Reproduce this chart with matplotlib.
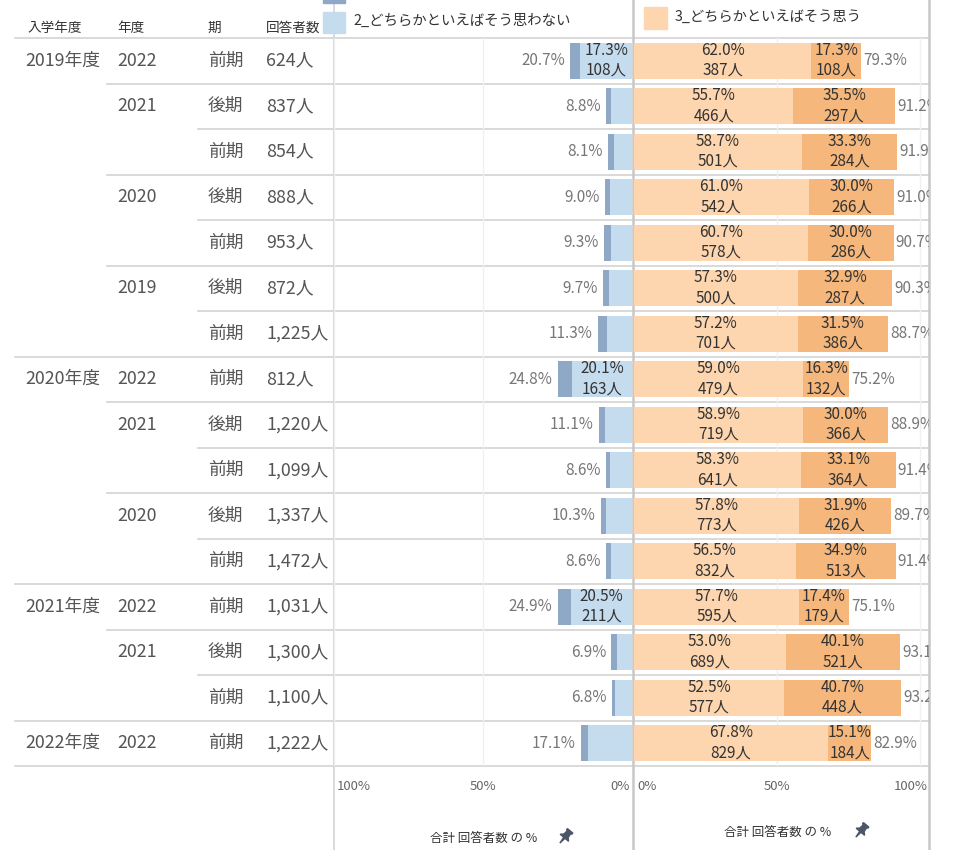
import matplotlib
matplotlib.use('Agg')
import matplotlib.pyplot as plt
from matplotlib.patches import Rectangle, Polygon
from matplotlib import transforms
import numpy as np

plt.rcParams['font.family'] = ['Noto Sans CJK JP', 'DejaVu Sans']

# ---------------- data ----------------
enroll = ['2019年度'] * 7 + ['2020年度'] * 5 + ['2021年度'] * 3 + ['2022年度']
fiscal = ['2022', '2021', '2021', '2020', '2020', '2019', '2019',
          '2022', '2021', '2021', '2020', '2020',
          '2022', '2021', '2021',
          '2022']
term = ['前期', '後期', '前期', '後期', '前期', '後期', '前期',
        '前期', '後期', '前期', '後期', '前期',
        '前期', '後期', '前期',
        '前期']
n_resp = [624, 837, 854, 888, 953, 872, 1225,
          812, 1220, 1099, 1337, 1472,
          1031, 1300, 1100,
          1222]
neg_total = [20.7, 8.8, 8.1, 9.0, 9.3, 9.7, 11.3,
             24.8, 11.1, 8.6, 10.3, 8.6,
             24.9, 6.9, 6.8,
             17.1]
neg2 = [17.3, 7.1, 6.1, 7.3, 7.2, 7.6, 8.5,
        20.1, 9.0, 7.4, 8.6, 6.9,
        20.5, 5.2, 5.6,
        14.8]
neg1 = [3.4, 1.7, 2.0, 1.7, 2.1, 2.1, 2.8,
        4.7, 2.1, 1.2, 1.7, 1.7,
        4.4, 1.7, 1.2,
        2.3]
neg2_cnt = [108, None, None, None, None, None, None,
            163, None, None, None, None,
            211, None, None,
            None]
pos3 = [62.0, 55.7, 58.7, 61.0, 60.7, 57.3, 57.2,
        59.0, 58.9, 58.3, 57.8, 56.5,
        57.7, 53.0, 52.5,
        67.8]
pos3_cnt = [387, 466, 501, 542, 578, 500, 701,
            479, 719, 641, 773, 832,
            595, 689, 577,
            829]
pos4 = [17.3, 35.5, 33.3, 30.0, 30.0, 32.9, 31.5,
        16.3, 30.0, 33.1, 31.9, 34.9,
        17.4, 40.1, 40.7,
        15.1]
pos4_cnt = [108, 297, 284, 266, 286, 287, 386,
            132, 366, 364, 426, 513,
            179, 521, 448,
            184]
pos_total = [79.3, 91.2, 91.9, 91.0, 90.7, 90.3, 88.7,
             75.2, 88.9, 91.4, 89.7, 91.4,
             75.1, 93.1, 93.2,
             82.9]

headers = ['入学年度', '年度', '期', '回答者数']
legend_neg = '2_どちらかといえばそう思わない'
legend_pos = '3_どちらかといえばそう思う'
axis_title = '合計 回答者数 の %'
left_ticks = [100, 50, 0]
right_ticks = [0, 50, 100]

# ---------------- style ----------------
C_LB = '#c5dcef'
C_DB = '#8fa8c6'
C_LO = '#fdd5ae'
C_DO = '#f5b77b'
C_LINE = '#d3d3d3'
C_GRID = '#f0f0f0'
C_ROW = '#555555'
C_LAB = '#333333'
C_TOT = '#777777'

W, H = 961, 850
fig = plt.figure(figsize=(W / 100, H / 100), dpi=100)

bg = fig.add_axes([0, 0, 1, 1])
bg.set_xlim(0, W)
bg.set_ylim(H, 0)
bg.set_axis_off()

top_px, bot_px = 38, 766
lx0, lx1 = 334, 632
rx0, rx1 = 634, 929
ax_l = fig.add_axes([lx0 / W, 1 - bot_px / H, (lx1 - lx0) / W, (bot_px - top_px) / H])
ax_r = fig.add_axes([rx0 / W, 1 - bot_px / H, (rx1 - rx0) / W, (bot_px - top_px) / H])
nrow = len(n_resp)
y = np.arange(nrow) + 0.5
for ax in (ax_l, ax_r):
    ax.set_ylim(nrow, 0)
    ax.set_axis_off()
ax_l.set_xlim(100, 0)
ax_r.set_xlim(0, 103.1)

for v in (50, 100):
    ax_l.axvline(v, color=C_GRID, lw=1, zorder=0)
    ax_r.axvline(v, color=C_GRID, lw=1, zorder=0)

bh = 0.8
ax_l.barh(y, neg2, height=bh, left=0, color=C_LB, zorder=2)
ax_l.barh(y, neg1, height=bh, left=neg2, color=C_DB, zorder=2)
ax_r.barh(y, pos3, height=bh, left=0, color=C_LO, zorder=2)
ax_r.barh(y, pos4, height=bh, left=pos3, color=C_DO, zorder=2)

fs_lab = 11
for i in range(nrow):
    yi = y[i]
    # left labels
    if neg2_cnt[i] is not None:
        cx = neg2[i] / 2
        ax_l.text(cx, yi - 0.23, f'{neg2[i]:.1f}%', ha='center', va='center', fontsize=fs_lab, color=C_LAB, zorder=3)
        ax_l.text(cx, yi + 0.21, f'{neg2_cnt[i]:,}人', ha='center', va='center', fontsize=fs_lab, color=C_LAB, zorder=3)
    ax_l.text(neg_total[i] + 1.8, yi, f'{neg_total[i]:.1f}%', ha='right', va='center', fontsize=fs_lab, color=C_TOT, zorder=3)
    # right labels
    cx = pos3[i] / 2
    ax_r.text(cx, yi - 0.23, f'{pos3[i]:.1f}%', ha='center', va='center', fontsize=fs_lab, color=C_LAB, zorder=3)
    ax_r.text(cx, yi + 0.21, f'{pos3_cnt[i]:,}人', ha='center', va='center', fontsize=fs_lab, color=C_LAB, zorder=3)
    cx = pos3[i] + pos4[i] / 2
    ax_r.text(cx, yi - 0.23, f'{pos4[i]:.1f}%', ha='center', va='center', fontsize=fs_lab, color=C_LAB, zorder=3)
    ax_r.text(cx, yi + 0.21, f'{pos4_cnt[i]:,}人', ha='center', va='center', fontsize=fs_lab, color=C_LAB, zorder=3)
    ax_r.text(pos_total[i] + 0.8, yi, f'{pos_total[i]:.1f}%', ha='left', va='center', fontsize=fs_lab, color=C_TOT,
              zorder=3, clip_on=True)

# ---------------- table (row headers) ----------------
tr = transforms.blended_transform_factory(bg.transData, ax_l.transData)
fs_row = 12.8
col_x = [25, 117, 208, 266]
for i in range(nrow):
    yi = y[i]
    if i == 0 or enroll[i] != enroll[i - 1]:
        bg.text(col_x[0], yi, enroll[i], transform=tr, ha='left', va='center', fontsize=fs_row, color=C_ROW)
    if i == 0 or enroll[i] != enroll[i - 1] or fiscal[i] != fiscal[i - 1]:
        bg.text(col_x[1], yi, fiscal[i], transform=tr, ha='left', va='center', fontsize=fs_row, color=C_ROW)
    bg.text(col_x[2], yi, term[i], transform=tr, ha='left', va='center', fontsize=fs_row, color=C_ROW)
    bg.text(col_x[3], yi, f'{n_resp[i]:,}人', transform=tr, ha='left', va='center', fontsize=fs_row, color=C_ROW)

# separators
for i in range(nrow + 1):
    if i == 0 or i == nrow or enroll[i] != enroll[i - 1]:
        xs = 15
    elif fiscal[i] != fiscal[i - 1]:
        xs = 107
    else:
        xs = 198
    bg.plot([xs, rx1], [i, i], transform=tr, color=C_LINE, lw=1.2, zorder=1)

# vertical dividers
bg.plot([lx0, lx0], [0, H], color=C_LINE, lw=1.2, zorder=1)
bg.plot([lx1 + 0.5, lx1 + 0.5], [0, H], color='#c8c8c8', lw=1.8, zorder=1)
bg.plot([rx1, rx1], [0, H], color='#c8c8c8', lw=1.8, zorder=1)

# headers
hdr_x = [27, 117, 207, 266]
for hx, ht in zip(hdr_x, headers):
    bg.text(hx, 28, ht, ha='left', va='center', fontsize=9.8, color='#333333')

# legend
bg.add_patch(Rectangle((323, -1), 22, 4, color=C_DB, zorder=5))
bg.add_patch(Rectangle((323, 12), 22, 21, color=C_LB, zorder=5))
bg.text(353, 21, legend_neg, ha='left', va='center', fontsize=10.4, color='#333333', zorder=5)
bg.add_patch(Rectangle((644, 7), 23, 22, color=C_LO, zorder=5))
bg.text(675, 17, legend_pos, ha='left', va='center', fontsize=10.3, color='#333333', zorder=5)

# axis tick labels
trl = transforms.blended_transform_factory(ax_l.transData, bg.transData)
trr = transforms.blended_transform_factory(ax_r.transData, bg.transData)
ha_l = {100: 'left', 50: 'center', 0: 'right'}
off_l = {100: -1, 50: 0, 0: 0.8}
for t in left_ticks:
    ax_l.text(t + off_l[t], 787, f'{t}%', transform=trl, ha=ha_l[t], va='center', fontsize=9.5, color='#666666',
              clip_on=False)
ha_r = {0: 'left', 50: 'center', 100: 'right'}
off_r = {0: 1.2, 50: 0, 100: 2.6}
for t in right_ticks:
    ax_r.text(t + off_r[t], 787, f'{t}%', transform=trr, ha=ha_r[t], va='center', fontsize=9.5, color='#666666',
              clip_on=False)

# axis titles with pin icons
def pin(cx, cy, s=1.0):
    head = np.array([(-3.5, -8), (3.5, -8), (3.5, -6.5), (2.2, -6.5), (2.8, -1.5), (5.5, 1), (-5.5, 1),
                     (-2.8, -1.5), (-2.2, -6.5), (-3.5, -6.5)])
    needle = np.array([(-0.8, 1), (0.8, 1), (0, 8)])
    th = np.deg2rad(40)
    R = np.array([[np.cos(th), -np.sin(th)], [np.sin(th), np.cos(th)]])
    for shape in (head, needle):
        pts = shape * s @ R.T + np.array([cx, cy])
        bg.add_patch(Polygon(pts, closed=True, color='#4d5666', zorder=5))

bg.text(484, 838, axis_title, ha='center', va='center', fontsize=9, color='#333333')
pin(565, 837, 1.0)
bg.text(778, 832, axis_title, ha='center', va='center', fontsize=9, color='#333333')
pin(861, 831, 1.0)

fig.savefig('out.png', dpi=100)
